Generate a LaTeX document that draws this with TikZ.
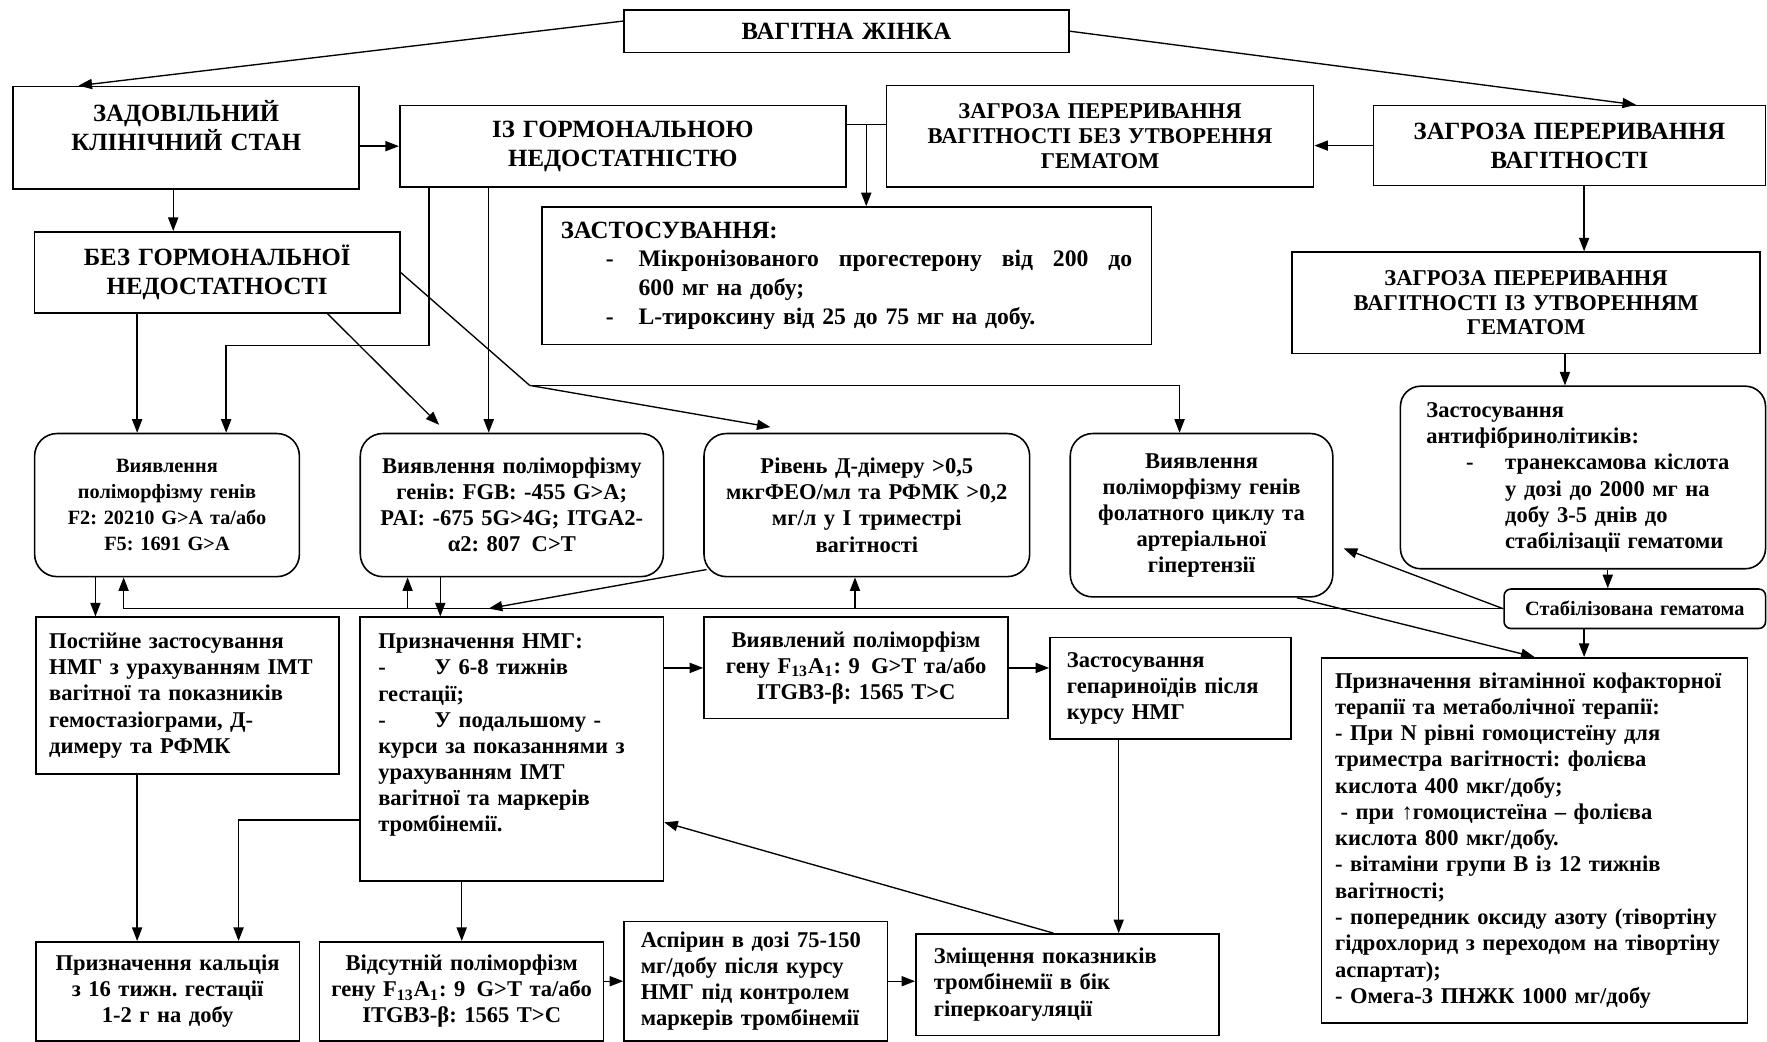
\documentclass[tikz,border=0pt]{standalone}
\usepackage{fontspec}
\setmainfont{Liberation Serif}
\usetikzlibrary{arrows.meta,positioning,calc}
\tikzset{
    box/.style={draw, line width=0.7pt, anchor=north west, inner xsep=3pt, inner ysep=0pt, align=center, font=\bfseries\fontsize{10}{11.6}\selectfont},
    hd/.style={font=\bfseries\fontsize{11}{12.8}\selectfont},
    hdm/.style={font=\bfseries\fontsize{10}{11}\selectfont},
    rbox/.style={box, rounded corners=10pt},
    arr/.style={line width=0.6pt, -{Triangle[length=6pt,width=4.5pt]}},
    ln/.style={line width=0.6pt}
}

\begin{document}
\frenchspacing
\begin{tikzpicture}[x=0.5pt,y=-0.5pt]
\fill[white] (0,0) rectangle (1568,924);
\useasboundingbox (0,0) rectangle (1568,924);

% top row
\node[box, hd, minimum width=197.5pt, minimum height=19pt, text width=191.5pt] (zhinka) at (553,8) {ВАГІТНА ЖІНКА};
\node[box, hd, text width=147.5pt, text height=15.5pt, text depth=30pt] (zadov) at (11,76) {ЗАДОВІЛЬНИЙ\\КЛІНІЧНИЙ СТАН};
\node[box, hd, minimum width=198pt, minimum height=36pt, text width=192pt] (izhorm) at (354,93) {ІЗ ГОРМОНАЛЬНОЮ\\НЕДОСТАТНІСТЮ};
\node[box, hdm, minimum width=189.5pt, minimum height=45pt, text width=183.5pt] (zagbez) at (786,75) {ЗАГРОЗА ПЕРЕРИВАННЯ\\ВАГІТНОСТІ БЕЗ УТВОРЕННЯ\\ГЕМАТОМ};
\node[box, hd, minimum width=174pt, minimum height=35.5pt, text width=168pt] (zagroza) at (1218,93) {ЗАГРОЗА ПЕРЕРИВАННЯ\\ВАГІТНОСТІ};
\node[box, hd, minimum width=162pt, minimum height=36pt, text width=156pt] (bezhorm) at (30,205) {БЕЗ ГОРМОНАЛЬНОЇ\\НЕДОСТАТНОСТІ};
\node[box, align=left, font=\bfseries\fontsize{10.5}{12.8}\selectfont, inner xsep=8.5pt, minimum width=270.5pt, minimum height=61pt, text width=253.5pt] (zastos) at (480,183) {{\fontsize{11}{12.8}\selectfont ЗАСТОСУВАННЯ:}\par
\leftskip=34.5pt
\leavevmode\llap{-\hspace{11pt}}\hbox to 219pt{Мікронізованого\hfill прогестерону\hfill від\hfill 200\hfill до}\par
600 мг на добу;\par
\leavevmode\llap{-\hspace{11pt}}L-тироксину від 25 до 75 мг на добу.\par};
\node[box, hdm, minimum width=207.5pt, minimum height=45pt, text width=201.5pt] (zagutv) at (1146,223) {ЗАГРОЗА ПЕРЕРИВАННЯ\\ВАГІТНОСТІ ІЗ УТВОРЕННЯМ\\ГЕМАТОМ};
\node[rbox, rounded corners=9pt, align=left, inner xsep=11.5pt, minimum width=162pt, minimum height=81pt, text width=139pt] (antifib) at (1242,342) {Застосування\\антифібринолітиків:\par
\leftskip=35pt
\leavevmode\llap{-\hspace{14pt}}транексамова кіслота\par
у дозі до 2000 мг на\par
добу 3-5 днів до\par
стабілізації гематоми\par};
\node[box, rounded corners=3pt, font=\bfseries\fontsize{9}{10}\selectfont, minimum width=116pt, minimum height=17.5pt, text width=110pt] (stabil) at (1334,522) {Стабілізована гематома};

% rounded row
\node[rbox, font=\bfseries\fontsize{9}{11.5}\selectfont, minimum width=117.5pt, minimum height=63.5pt, text width=111.5pt] (polimA) at (30,384) {Виявлення\\поліморфізму генів\\F2: 20210 G>A та/або\\F5: 1691 G>A};
\node[rbox, minimum width=134.5pt, minimum height=63.5pt, text width=128.5pt] (polimB) at (319,384) {Виявлення поліморфізму\\генів: FGB: -455 G>A;\\PAI: -675 5G>4G; ITGA2-\\α2: 807\enspace C>T};
\node[rbox, minimum width=144.5pt, minimum height=63.5pt, text width=138.5pt] (ddimer) at (624,384) {Рівень Д-дімеру >0,5\\мкгФЕО/мл та РФМК >0,2\\мг/л у І триместрі\\вагітності};
\node[rbox, font=\bfseries\fontsize{10}{11.5}\selectfont, minimum width=116.5pt, minimum height=72.5pt, text width=110.5pt] (folat) at (949,384) {Виявлення\\поліморфізму генів\\фолатного циклу та\\артеріальної\\гіпертензії};

% second row
\node[box, align=left, inner xsep=6pt, minimum width=134.5pt, minimum height=69.5pt, text width=122.5pt] (postnmg) at (31,547) {Постійне застосування\\НМГ з урахуванням ІМТ\\вагітної та показників\\гемостазіограми, Д-\\димеру та РФМК};
\node[box, align=left, inner xsep=8pt, text width=118.5pt, text height=14pt, text depth=103pt] (nmg) at (319,547) {Призначення НМГ:\\
\makebox[25pt][l]{-}У 6-8 тижнів\\
гестації;\\
\makebox[25pt][l]{-}У подальшому -\\
курси за показаннями з\\
урахуванням ІМТ\\
вагітної та маркерів\\
тромбінемії.};
\node[box, minimum width=135pt, minimum height=45pt, text width=129pt] (vyjavl) at (624,547) {Виявлений поліморфізм\\гену F\textsubscript{13}A\textsubscript{1}: 9\enspace G>T та/або\\ITGB3-β: 1565 T>C};
\node[box, align=left, inner xsep=7.5pt, minimum width=107pt, minimum height=45pt, text width=92pt] (geparin) at (931,565) {Застосування\\гепариноїдів після\\курсу НМГ};
\node[box, align=left, font=\bfseries\fontsize{10}{11.65}\selectfont, inner xsep=6pt, minimum width=189pt, minimum height=162pt, text width=177pt] (vitamin) at (1172,583) {Призначення вітамінної кофакторної\\
терапії та метаболічної терапії:\\
- При N рівні гомоцистеїну для\\
триместра вагітності: фолієва\\
кислота 400 мкг/добу;\\
\hspace*{2.5pt}- при ↑гомоцистеїна – фолієва\\
кислота 800 мкг/добу.\\
- вітаміни групи В із 12 тижнів\\
вагітності;\\
- попередник оксиду азоту (тівортіну\\
гідрохлорид з переходом на тівортіну\\
аспартат);\\
- Омега-3 ПНЖК 1000 мг/добу};

% bottom row
\node[box, minimum width=117pt, minimum height=44pt, text width=111pt] (kalcij) at (31,835) {Призначення кальція\\з 16 тижн. гестації\\1-2 г на добу};
\node[box, minimum width=126pt, minimum height=44pt, text width=120pt] (vidsut) at (283,835) {Відсутній поліморфізм\\гену F\textsubscript{13}A\textsubscript{1}: 9\enspace G>T та/або\\ITGB3-β: 1565 T>C};
\node[box, align=left, inner xsep=7.5pt, minimum width=117pt, minimum height=53pt, text width=102pt] (aspirin) at (553,817) {Аспірин в дозі 75-150\\мг/добу після курсу\\НМГ під контролем\\маркерів тромбінемії};
\node[box, align=left, inner xsep=8pt, minimum width=134.5pt, minimum height=45pt, text width=118.5pt] (zmishch) at (812,828) {Зміщення показників\\тромбінемії в бік\\гіперкоагуляції};

% connectors
\draw[arr] ([yshift=4.5pt]zhinka.west) -- ([xshift=-47.75pt]zadov.north);
\draw[arr] (zhinka.east) -- ([xshift=29.5pt]zagroza.north);
\draw[arr] (zadov.east |- izhorm.west) -- (izhorm.west);
\draw[arr] ([xshift=-5.75pt]zadov.south) -- ([xshift=-5.75pt]zadov.south |- bezhorm.north);
\draw[arr] (zagroza.west) -- (zagroza.west -| zagbez.east);
\draw[ln] ([yshift=9.5pt]izhorm.east) -- coordinate[midway] (razom) ([yshift=9.5pt]izhorm.east -| zagbez.west);
\draw[arr] (razom) -- (razom |- zastos.north);
\draw[arr] ([xshift=6.5pt]zagroza.south) -- ([xshift=6.5pt]zagroza.south |- zagutv.north);
\draw[arr] ([xshift=-8pt]antifib.north |- zagutv.south) -- ([xshift=-8pt]antifib.north);
\draw[arr] ([xshift=-12pt]stabil.north |- antifib.south) -- ([xshift=-12pt]stabil.north);
\draw[arr] ([xshift=-22.5pt]stabil.south) -- ([xshift=-22.5pt]stabil.south |- vitamin.north);
\draw[arr] (stabil.west) -- ([xshift=4.5pt,yshift=-14.75pt]folat.east);
\draw[arr] (stabil.west) -- ([xshift=-19.25pt]polimA.south |- stabil.west) -- ([xshift=-19.25pt]polimA.south);
\draw[arr] ([xshift=-46.25pt]polimB.south |- stabil.west) -- ([xshift=-46.25pt]polimB.south);
\draw[arr] ([xshift=-5.25pt]ddimer.south |- stabil.west) -- ([xshift=-5.25pt]ddimer.south);
\draw[arr] ([xshift=-86pt]izhorm.south) -- ++(0,140) -| ([xshift=26.25pt]polimA.north);
\draw[arr] ([xshift=-59.5pt]izhorm.south) -- ([xshift=-59.5pt]izhorm.south |- polimB.north);
\draw[arr] ([xshift=-35.5pt]bezhorm.south) -- ([xshift=-35.5pt]bezhorm.south |- polimA.north);
\draw[arr] ([xshift=49pt]bezhorm.south) -- ([xshift=-32.25pt,yshift=3.5pt]polimB.north);
\coordinate (zlam) at (470,342);
\draw[ln] (bezhorm.east) -- (zlam);
\draw[arr] (zlam) -- ([xshift=-42.75pt,yshift=2.5pt]ddimer.north);
\draw[arr] (zlam) -| ([xshift=-9.75pt]folat.north);
\draw[arr] ([xshift=-31.75pt]polimA.south) -- ([xshift=-31.75pt]polimA.south |- postnmg.north);
\draw[arr] ([xshift=-31.75pt]polimB.south) -- ([xshift=-31.75pt]polimB.south |- nmg.north);
\draw[arr] ([xshift=1.5pt,yshift=3.5pt]ddimer.south west) -- ([xshift=-10.25pt,yshift=3.5pt]nmg.north);
\draw[arr] ([xshift=42.25pt]folat.south) -- (vitamin.north);
\draw[arr] (nmg.east |- vyjavl.west) -- (vyjavl.west);
\draw[arr] (vyjavl.east) -- (vyjavl.east -| geparin.west);
\draw[arr] ([xshift=-23pt]geparin.south) -- ([xshift=-23pt]geparin.south |- zmishch.north);
\draw[arr] ([xshift=-22.25pt]postnmg.south) -- ([xshift=-22.25pt]postnmg.south |- kalcij.north);
\draw[arr] ([yshift=-31.5pt]nmg.west) -| ([xshift=31.5pt]kalcij.north);
\draw[arr] (nmg.south -| vidsut.north) -- (vidsut.north);
\draw[arr] (vidsut.east |- aspirin.west) -- (aspirin.west);
\draw[arr] (aspirin.east) -- (aspirin.east -| zmishch.west);
\draw[arr] ([xshift=-6.25pt]zmishch.north) -- ([yshift=-32.5pt]nmg.east);
\end{tikzpicture}
\end{document}
